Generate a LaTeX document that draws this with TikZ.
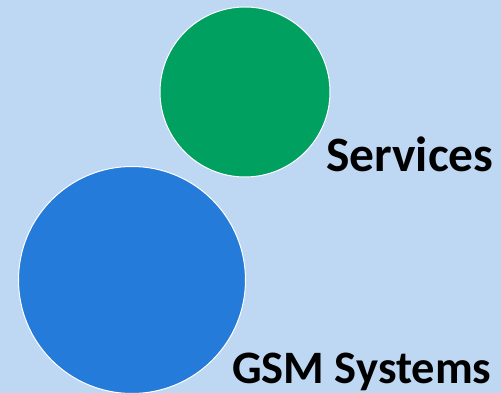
\documentclass[tikz,border=0pt]{standalone}
\usepackage{fontspec}
\setmainfont{Carlito}
\usepackage{tikz}
\usetikzlibrary{positioning}

\definecolor{bgblue}{RGB}{190,216,243}
\definecolor{srvgreen}{RGB}{0,160,96}
\definecolor{gsmblue}{RGB}{37,123,217}

\tikzset{
  bubble/.style={circle,draw=white,line width=1pt,inner sep=0pt},
  label text/.style={inner sep=0pt,anchor=base west,font=\bfseries}
}

\begin{document}
\begin{tikzpicture}[x=1pt,y=1pt]
      \fill[bgblue] (0,0) rectangle (501,393);
      \useasboundingbox (0,0) rectangle (501,393);

      \node[bubble,fill=srvgreen,minimum size=170pt] (srvcircle) at (245,301) {};
      \node[bubble,fill=gsmblue,minimum size=227pt] (gsmcircle) at (132,113) {};

      \node[label text] (srvlabel) at (326,221) {\fontsize{49.5}{52}\selectfont Services};
      \node[label text] (gsmlabel) at (232,9) {\fontsize{46.5}{50}\selectfont GSM Systems};
    \end{tikzpicture}
\end{document}
